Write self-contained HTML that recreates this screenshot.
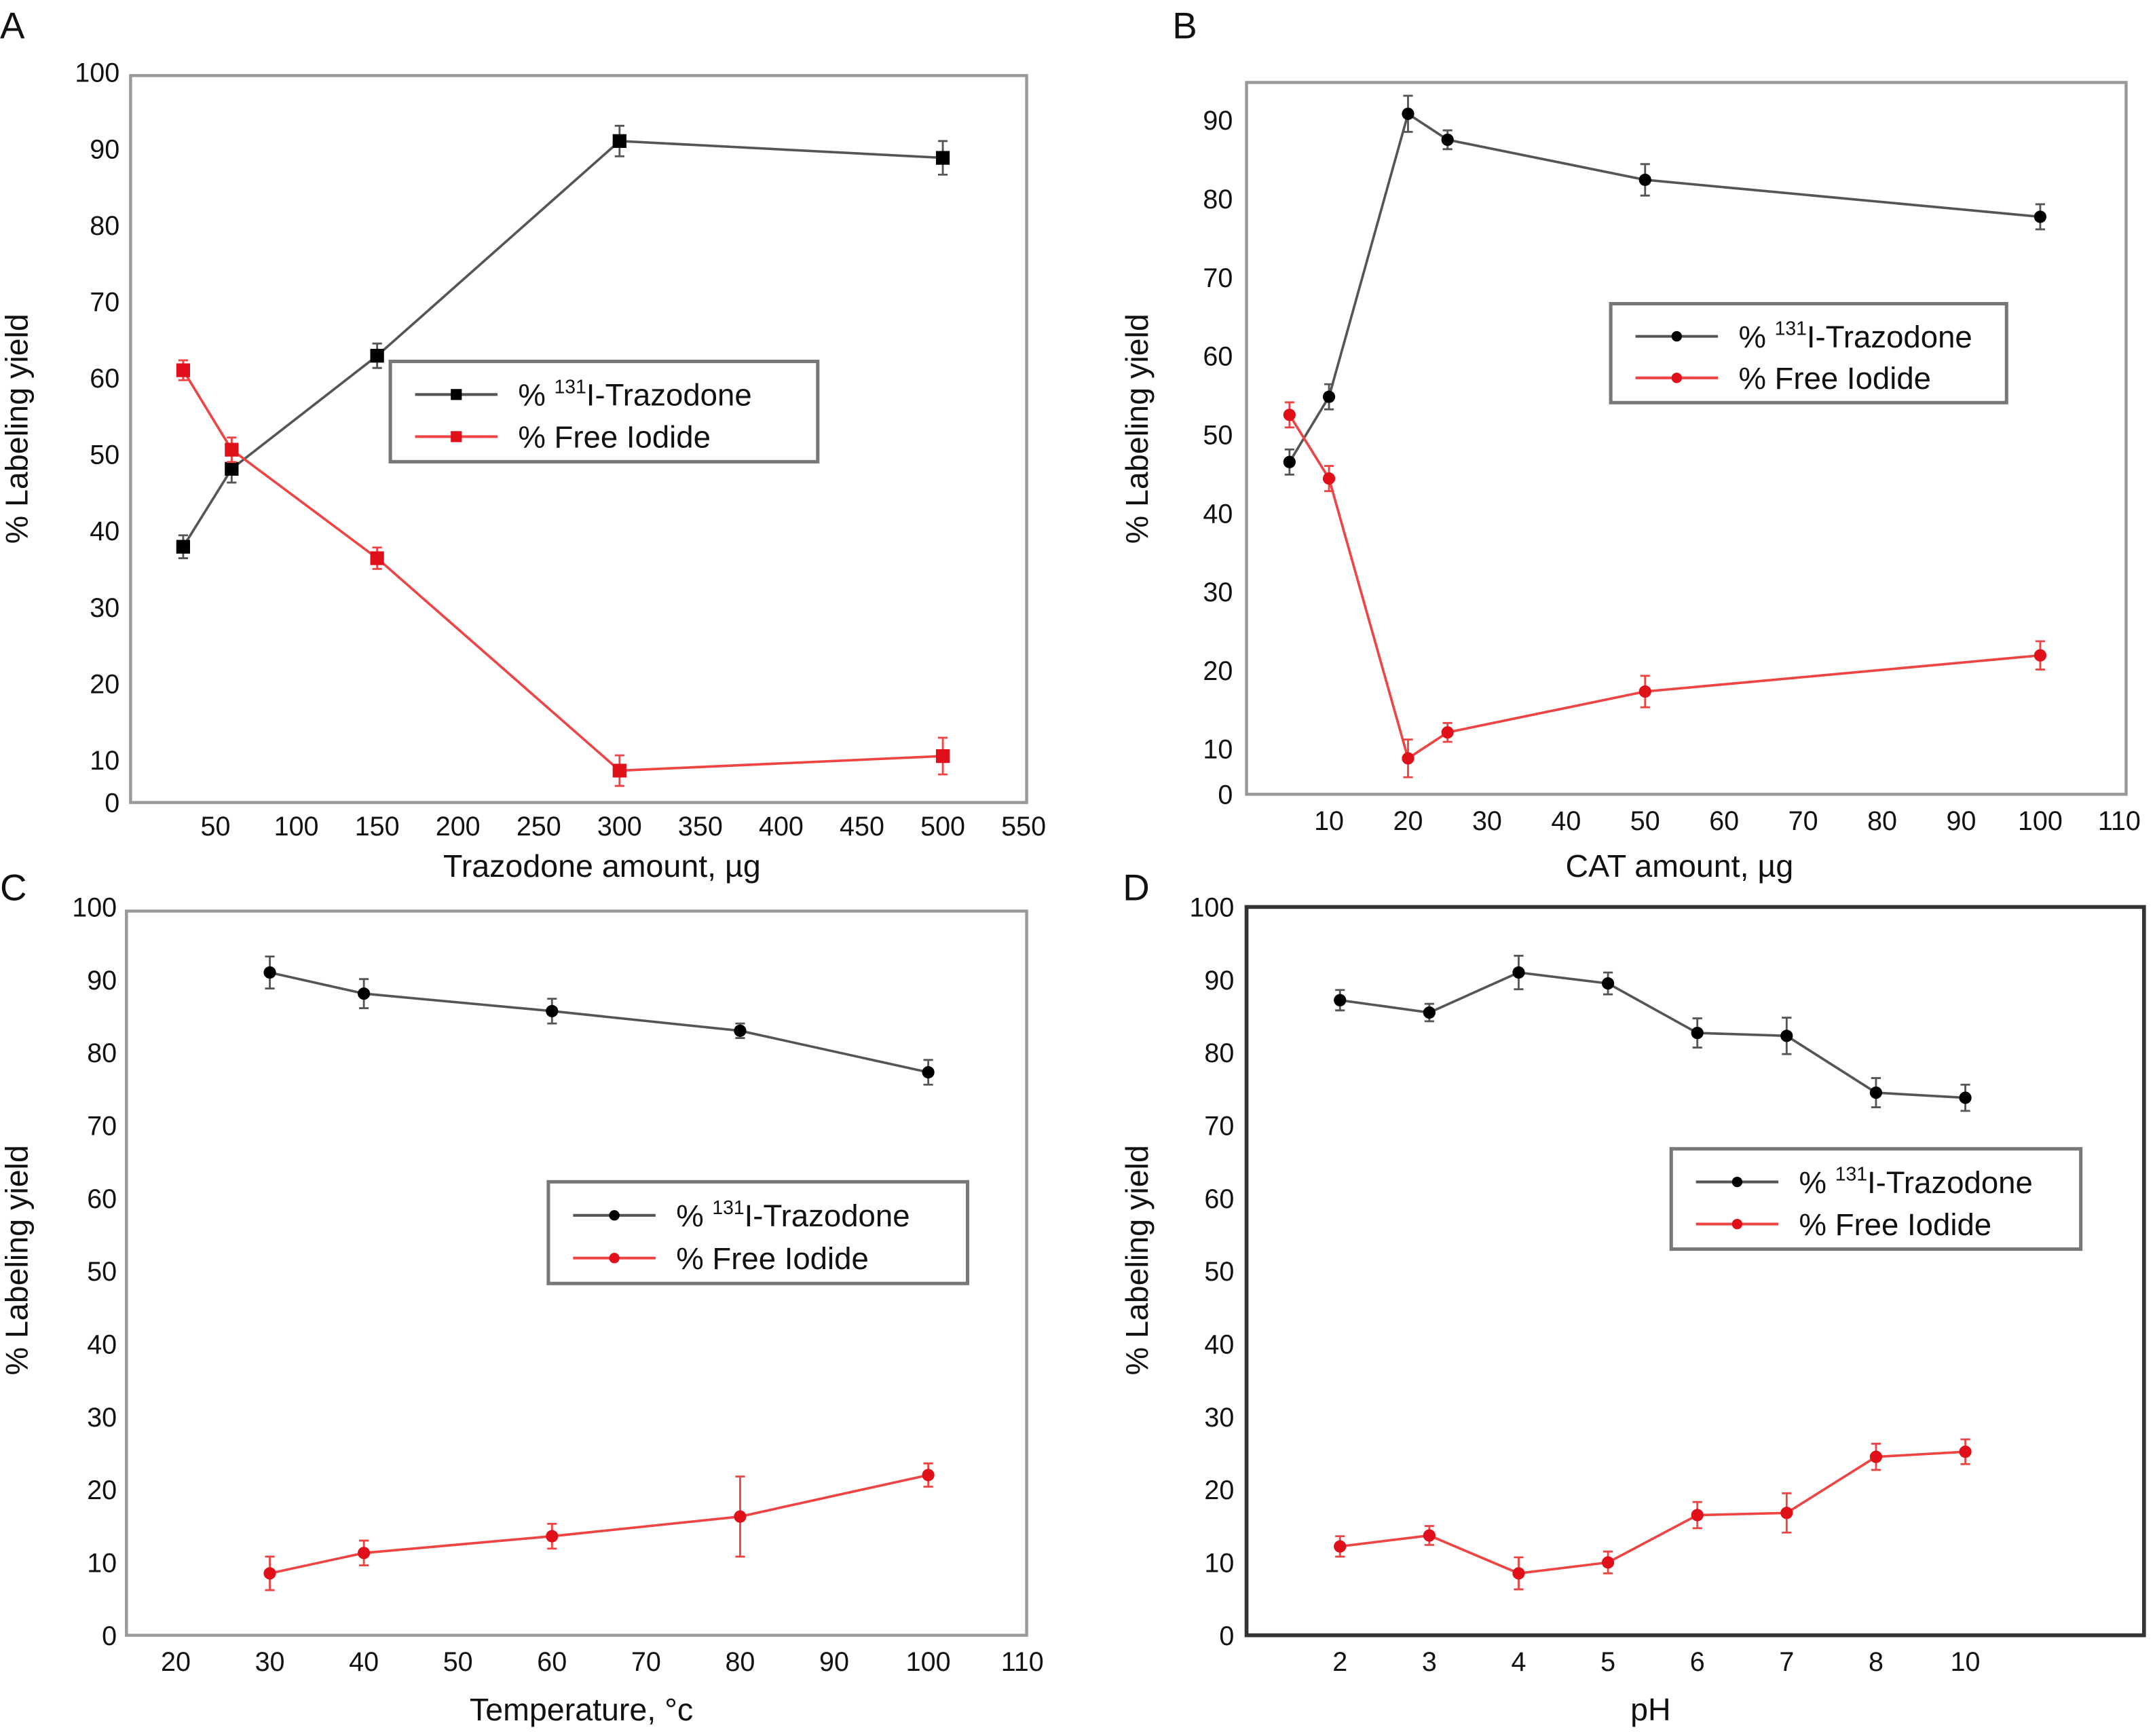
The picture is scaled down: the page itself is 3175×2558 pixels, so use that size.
<!DOCTYPE html>
<html><head><meta charset="utf-8">
<style>
html,body{margin:0;padding:0;background:#fff;}
svg{display:block;}
text{font-family:"Liberation Sans Narrow","Liberation Sans",sans-serif;fill:#111;}
</style></head>
<body>
<svg id="fig" width="3175" height="2558" viewBox="0 0 1568 1263.3" xmlns="http://www.w3.org/2000/svg"></svg>
<script>
// Panel A data
const aX = [30, 60, 150, 300, 500];
const aTraz = [37.9, 48.1, 62.9, 91.0, 88.8];
const aTrazErr = [1.5, 1.8, 1.6, 2.0, 2.2];
const aIod = [61.0, 50.6, 36.4, 8.6, 10.5];
const aIodErr = [1.3, 1.6, 1.4, 2.0, 2.4];
const aXTicks = [50,100,150,200,250,300,350,400,450,500,550];
const aYTicks = [10,20,30,40,50,60,70,80,90,100];
// Panel B data
const bX = [5, 10, 20, 25, 50, 100];
const bTraz = [46.5, 54.8, 90.8, 87.5, 82.4, 77.7];
const bTrazErr = [1.6, 1.6, 2.3, 1.2, 2.0, 1.6];
const bIod = [52.5, 44.4, 8.8, 12.1, 17.3, 21.9];
const bIodErr = [1.6, 1.6, 2.4, 1.2, 2.0, 1.8];
const bXTicks = [10,20,30,40,50,60,70,80,90,100,110];
const bYTicks = [10,20,30,40,50,60,70,80,90];
// Panel C data
const cX = [30, 40, 60, 80, 100];
const cTraz = [91.0, 88.1, 85.7, 83.0, 77.3];
const cTrazErr = [2.2, 2.0, 1.7, 1.0, 1.7];
const cIod = [8.5, 11.3, 13.6, 16.3, 22.0];
const cIodErr = [2.3, 1.7, 1.7, 5.5, 1.6];
const cXTicks = [20,30,40,50,60,70,80,90,100,110];
const cYTicks = [10,20,30,40,50,60,70,80,90,100];
// Panel D data
const dCats = ["2","3","4","5","6","7","8","10"];
const dTraz = [87.2, 85.5, 91.0, 89.5, 82.7, 82.3, 74.5, 73.8];
const dTrazErr = [1.4, 1.2, 2.3, 1.5, 2.0, 2.5, 2.0, 1.8];
const dIod = [12.2, 13.7, 8.5, 10.0, 16.5, 16.8, 24.5, 25.2];
const dIodErr = [1.4, 1.3, 2.2, 1.5, 1.8, 2.7, 1.8, 1.7];
const dYTicks = [10,20,30,40,50,60,70,80,90,100];

const NS = "http://www.w3.org/2000/svg";
const svg = document.getElementById('fig');
function el(tag, attrs, parent, txt){
  const e = document.createElementNS(NS, tag);
  for (const k in attrs) e.setAttribute(k, attrs[k]);
  if (txt !== undefined) e.textContent = txt;
  (parent || svg).appendChild(e);
  return e;
}

function panel(cfg){
  const g = el('g', {});
  
  
  const letter = el('text', {x: cfg.letterX, y: cfg.letterY, 'font-size': 27}, g, cfg.id.toUpperCase());
  
  
  const frame = el('rect', {x: cfg.L, y: cfg.T, width: cfg.R - cfg.L, height: cfg.B - cfg.T, fill: 'none', stroke: cfg.frameColor, 'stroke-width': cfg.frameW}, g);
  
  
  cfg.yTicks.forEach(v => {
    const t = el('text', {x: cfg.yLabX, y: cfg.y(v) + 7, 'font-size': 19.5, 'text-anchor': 'end'}, g, String(v));
    
    
  });
  const z = el('text', {x: cfg.yLabX, y: cfg.B + 7, 'font-size': 19.5, 'text-anchor': 'end'}, g, '0');
  
  
  cfg.xTicks.forEach((v, i) => {
    const t = el('text', {x: cfg.xt(v, i), y: cfg.xLabY, 'font-size': 19.5, 'text-anchor': 'middle'}, g, String(v));
    
    
  });
  const xt = el('text', {x: cfg.xTitleX, y: cfg.xTitleY, 'font-size': 23, 'text-anchor': 'middle'}, g, cfg.xTitle);
  
  
  const yt = el('text', {x: 0, y: 0, 'font-size': 23, 'text-anchor': 'middle', transform: `translate(${cfg.yTitleX},${cfg.yTitleY}) rotate(-90)`}, g, '% Labeling yield');
  
  
  const series = [
    {name:'trazodone', vals: cfg.traz, err: cfg.trazErr, line:'#555', mark:'#000'},
    {name:'free-iodide', vals: cfg.iod, err: cfg.iodErr, line:'#ee4444', mark:'#e0101a'}
  ];
  series.forEach(s => {
    const pts = s.vals.map((v, i) => [cfg.xp(i), cfg.y(v)]);
    const pl = el('polyline', {points: pts.map(p => p.join(',')).join(' '), fill: 'none', stroke: s.line, 'stroke-width': 1.8}, g);
    
    
    s.vals.forEach((v, i) => {
      const x = cfg.xp(i), y = cfg.y(v);
      const y1 = cfg.y(v + s.err[i]), y2 = cfg.y(v - s.err[i]);
      const eb = el('path', {d: `M${x},${y1}V${y2}M${x-3.5},${y1}H${x+3.5}M${x-3.5},${y2}H${x+3.5}`, stroke: s.line, 'stroke-width': 1.4, fill: 'none'}, g);
      
      
      let m;
      if (cfg.square) m = el('rect', {x: x-5, y: y-5, width: 10, height: 10, fill: s.mark}, g);
      else m = el('circle', {cx: x, cy: y, r: 4.5, fill: s.mark}, g);
      
      
    });
  });
  const lg = el('g', {}, g);
  
  
  const [lx, ly, lw, lh] = cfg.legend;
  el('rect', {x: lx, y: ly, width: lw, height: lh, fill: '#fff', stroke: '#777', 'stroke-width': 2.5}, lg);
  const rows = [
    {c:'#555', m:'#000', y: ly + lh*0.33, n:'trazodone'},
    {c:'#ee4444', m:'#e0101a', y: ly + lh*0.75, n:'free-iodide'}
  ];
  rows.forEach((r, i) => {
    const e = el('g', {}, lg);
    
    
    el('line', {x1: lx+18, x2: lx+78, y1: r.y, y2: r.y, stroke: r.c, 'stroke-width': 2}, e);
    if (cfg.square) el('rect', {x: lx+44, y: r.y-4, width: 8, height: 8, fill: r.m}, e);
    else el('circle', {cx: lx+48, cy: r.y, r: 3.8, fill: r.m}, e);
    const t = el('text', {x: lx+93, y: r.y + 8, 'font-size': 22.5}, e);
    if (i === 0) {
      el('tspan', {}, t, '% ');
      el('tspan', {'font-size': 14, dy: -9}, t, '131');
      el('tspan', {dy: 9}, t, 'I-Trazodone');
    } else t.textContent = '% Free Iodide';
  });
}

panel({id:'a', letterX:0, letterY:28, L:95, R:747, T:55, B:584, frameColor:'#999', frameW:2.2,
  y: v => 553 - (v-10)*5.56, yTicks: aYTicks, yLabX:87,
  xTicks: aXTicks, xt: v => 98 + v*1.176, xLabY:608,
  xp: i => 98 + aX[i]*1.176,
  traz: aTraz, trazErr: aTrazErr, iod: aIod, iodErr: aIodErr, square:true,
  xTitle:'Trazodone amount, µg', xTitleX:438, xTitleY:638, yTitleX:20, yTitleY:312,
  legend:[284,263,311,73]});
panel({id:'b', letterX:853, letterY:28, L:907, R:1547, T:60, B:578, frameColor:'#999', frameW:2.2,
  y: v => 545 - (v-10)*5.72, yTicks: bYTicks, yLabX:897,
  xTicks: bXTicks, xt: v => 909.5 + v*5.75, xLabY:604,
  xp: i => 909.5 + bX[i]*5.75,
  traz: bTraz, trazErr: bTrazErr, iod: bIod, iodErr: bIodErr, square:false,
  xTitle:'CAT amount, µg', xTitleX:1222, xTitleY:638, yTitleX:835, yTitleY:312,
  legend:[1172,221,288,72]});
panel({id:'c', letterX:0, letterY:655, L:92, R:747, T:663, B:1190, frameColor:'#999', frameW:2.2,
  y: v => 1137 - (v-10)*5.3, yTicks: cYTicks, yLabX:85,
  xTicks: cXTicks, xt: v => -9 + v*6.844, xLabY:1216,
  xp: i => -9 + cX[i]*6.844,
  traz: cTraz, trazErr: cTrazErr, iod: cIod, iodErr: cIodErr, square:false,
  xTitle:'Temperature, °c', xTitleX:423, xTitleY:1252, yTitleX:20, yTitleY:917,
  legend:[399,860,305,74]});
panel({id:'d', letterX:817, letterY:655, L:907, R:1560, T:660, B:1190, frameColor:'#333', frameW:2.8,
  y: v => 1137 - (v-10)*5.3, yTicks: dYTicks, yLabX:898,
  xTicks: dCats, xt: (v, i) => 975 + i*65, xLabY:1216,
  xp: i => 975 + i*65,
  traz: dTraz, trazErr: dTrazErr, iod: dIod, iodErr: dIodErr, square:false,
  xTitle:'pH', xTitleX:1201, xTitleY:1252, yTitleX:835, yTitleY:917,
  legend:[1216,836,298,73]});
</script>
</body></html>
